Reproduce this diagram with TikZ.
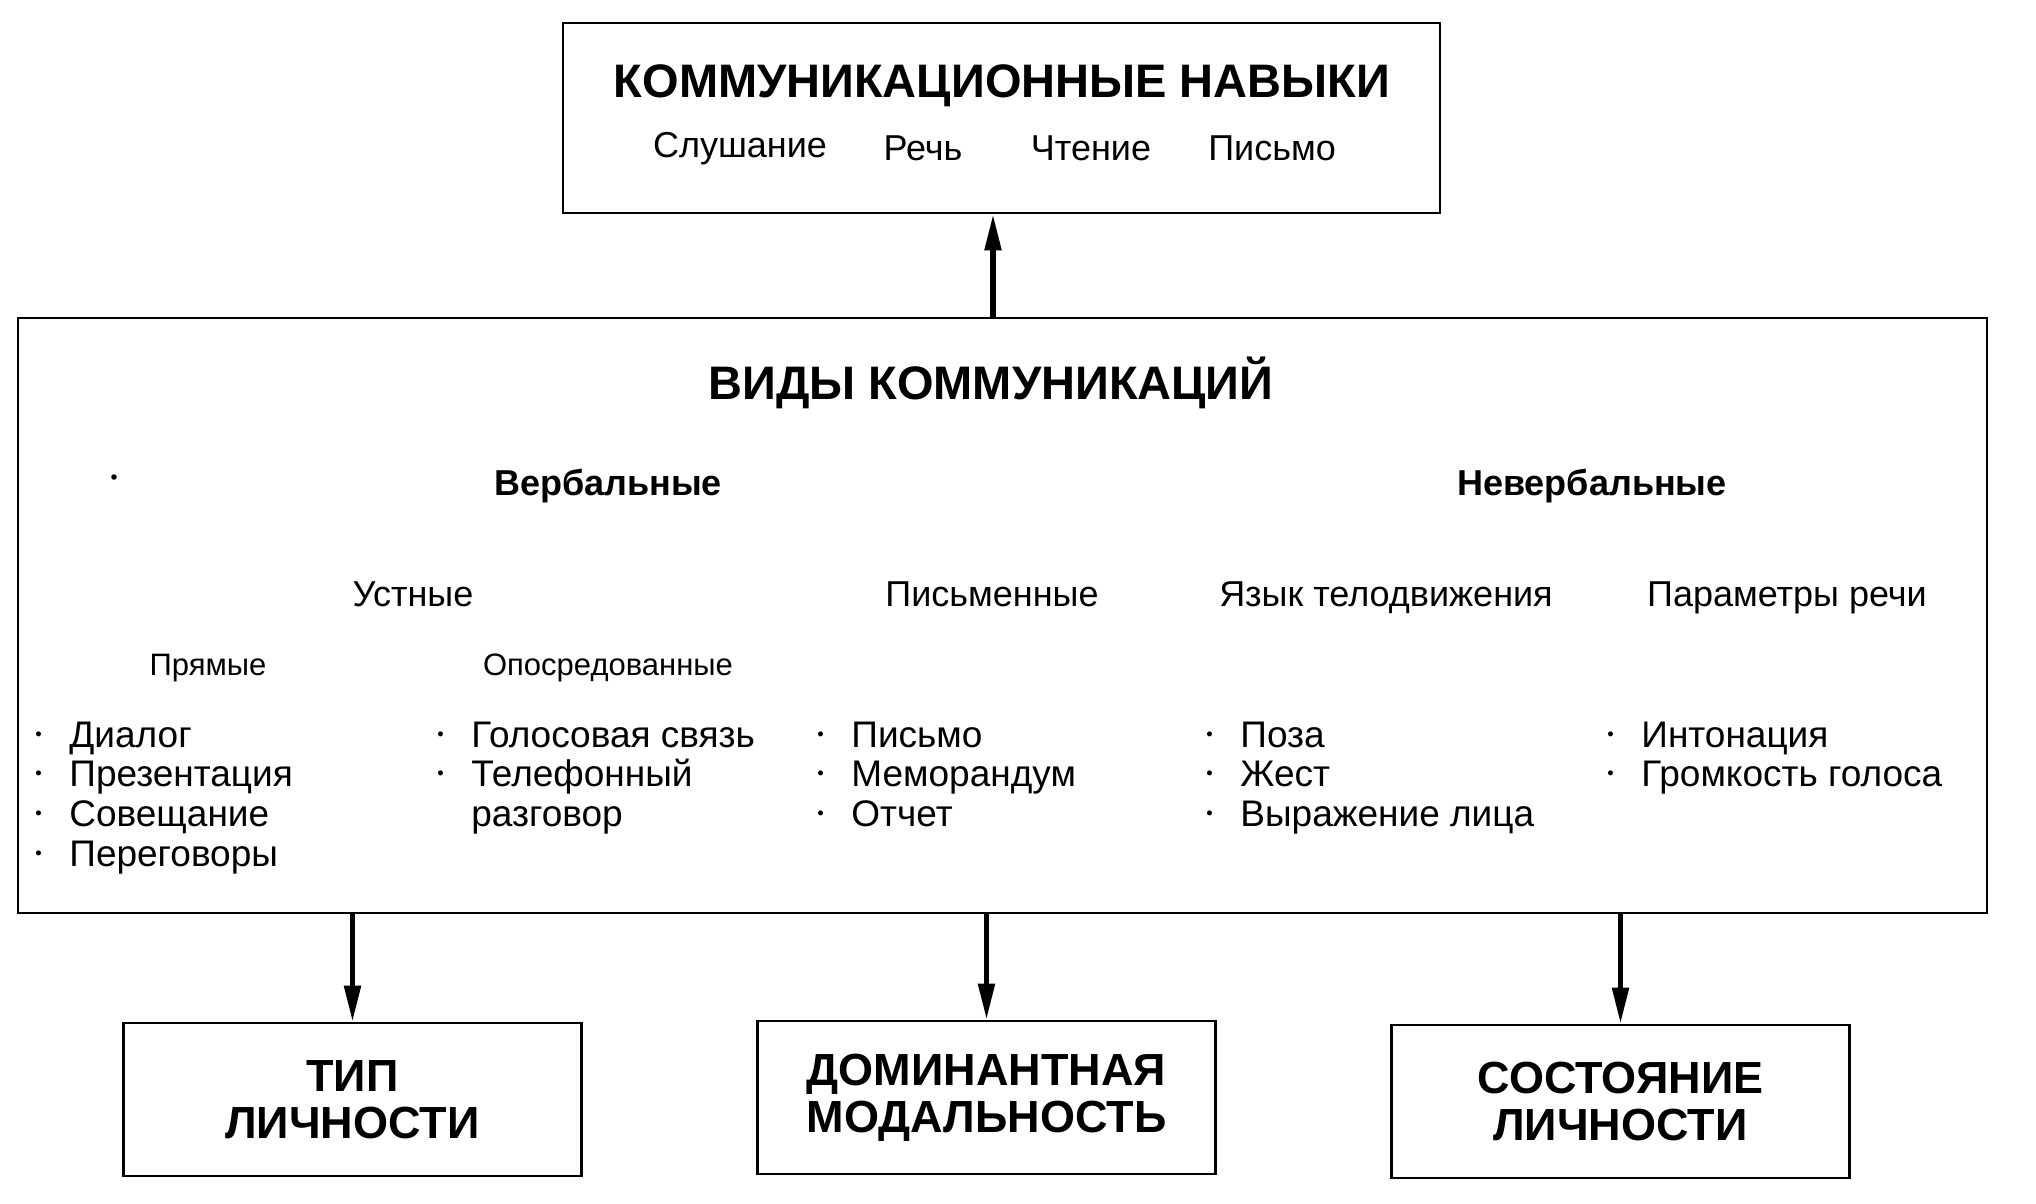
\documentclass[tikz,border=0pt]{standalone}
\usepackage{fontspec}
\usepackage{graphicx}
\setmainfont{Liberation Sans}
\usetikzlibrary{arrows.meta}
\begin{document}
\begin{tikzpicture}[x=0.5pt,y=-0.5pt,
  box/.style={draw, line width=1.3pt, inner sep=0pt},
  arr/.style={line width=2.6pt, -{Triangle[length=18pt,width=8pt]}},
  bigtitle/.style={font=\bfseries\fontsize{23.5}{28}\selectfont, anchor=base, inner sep=0pt},
  sub/.style={font=\fontsize{18}{22}\selectfont, anchor=base, inner sep=0pt},
  grp/.style={font=\bfseries\fontsize{18}{22}\selectfont, anchor=base, inner sep=0pt},
  small/.style={font=\fontsize{15.5}{19}\selectfont, anchor=base, inner sep=0pt},
  item/.style={font=\fontsize{18.5}{20}\selectfont, anchor=base west, inner sep=0pt},
  outbox/.style={box, minimum width=229pt, minimum height=76.5pt, align=center,
    font=\bfseries\fontsize{22.5}{23.5}\selectfont}]
\useasboundingbox (0,0) rectangle (2036,1204);

% top box
\node[box, minimum width=438.5pt, minimum height=95pt] (top) at (1001.5,118) {};
\node[bigtitle] (ttop) at (1002,98) {КОММУНИКАЦИОННЫЕ НАВЫКИ};
\node[sub] (s1) at (740,158) {Слушание};
\node[sub] (s2) at (923,161) {Речь};
\node[sub] (s3) at (1091,161) {Чтение};
\node[sub] (s4) at (1272,161) {Письмо};

% main box
\node[box, minimum width=984.5pt, minimum height=297.5pt] (main) at (1002.5,615.5) {};
\node[bigtitle] (tmain) at (991,399) {ВИДЫ КОММУНИКАЦИЙ};
\fill (114,477) circle (2.8);
\node[grp] (verb) at (608,495) {Вербальные};
\node[grp] (nverb) at (1592,495) {Невербальные};
\node[sub] (ust) at (413,606) {Устные};
\node[sub] (pism) at (992,606) {Письменные};
\node[sub] (yaz) at (1386,606) {Язык телодвижения};
\node[sub] (par) at (1787,606) {Параметры речи};
\node[small] (pr) at (208,675) {Прямые};
\node[small] (op) at (608,675) {Опосредованные};

\newcommand{\bul}{\llap{\makebox[17pt][l]{\raisebox{0.17em}{\scalebox{0.5}{\textbullet}}}}}
% column 1
\node[item] (a1) at (69,747) {\bul Диалог};
\node[item] (a2) at (69,786) {\bul Презентация};
\node[item] (a3) at (69,826) {\bul Совещание};
\node[item] (a4) at (69,866) {\bul Переговоры};
% column 2
\node[item] (b1i) at (471,747) {\bul Голосовая связь};
\node[item] (b2i) at (471,786) {\bul Телефонный};
\node[item] (b3i) at (471,826) {разговор};
% column 3
\node[item] (c1) at (851,747) {\bul Письмо};
\node[item] (c2) at (851,786) {\bul Меморандум};
\node[item] (c3) at (851,826) {\bul Отчет};
% column 4
\node[item] (d1) at (1240,747) {\bul Поза};
\node[item] (d2) at (1240,786) {\bul Жест};
\node[item] (d3) at (1240,826) {\bul Выражение лица};
% column 5
\node[item] (e1) at (1641,747) {\bul Интонация};
\node[item] (e2) at (1641,786) {\bul Громкость голоса};

% bottom boxes
\node[outbox] (o1) at (352.5,1099.5) {ТИП\\ЛИЧНОСТИ};
\node[outbox] (o2) at (986.5,1097.5) {ДОМИНАНТНАЯ\\МОДАЛЬНОСТЬ};
\node[outbox] (o3) at (1620.5,1101.5) {СОСТОЯНИЕ\\ЛИЧНОСТИ};

% arrows
\coordinate (ta) at (993,318);
\draw[arr] (main.north -| ta) -- (ta |- top.south);
\draw[arr] (main.south -| o1) -- (o1.north);
\draw[arr] (main.south -| o2) -- (o2.north);
\draw[arr] (main.south -| o3) -- (o3.north);
\end{tikzpicture}
\end{document}
